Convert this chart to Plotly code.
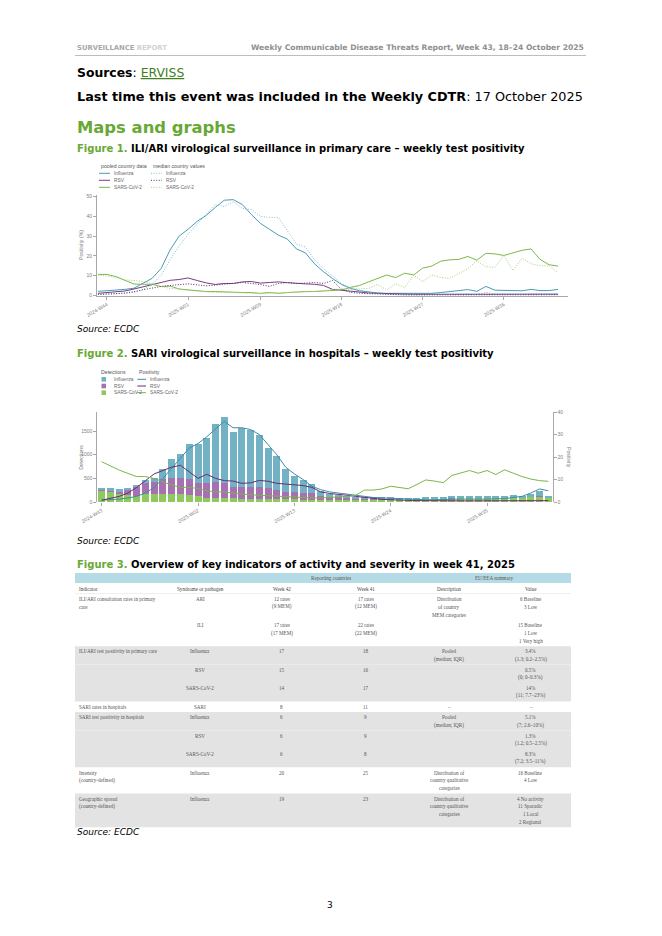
import plotly.graph_objects as go

W, H = 662, 936
OFF = 8  # the page body margin shifts the figure by 8 px


def X(px):
    return (px - OFF) / W


def Y(py):
    return 1 - (py - OFF) / H


# ---------------- data ----------------
weeks = [f"2024-W{w}" for w in range(43, 53)] + [f"2025-W{w:02d}" for w in range(1, 43)]

# Figure 1 (positivity %, primary care)
flu_pooled = [2.0, 2.3, 2.6, 3.0, 3.6, 6.0, 8.6, 13.5, 23, 30, 33.5, 37.5, 40.5, 44.5, 48.2, 48.5, 46, 41, 36.5, 33.5,
              30.5, 28.5, 23.5, 21.5, 16, 12, 8.5, 5.5, 3.5, 2.3, 1.6, 1.2, 1.0, 1.0, 1.0, 1.1, 1.2, 1.0, 1.4, 1.8,
              2.2, 2.9, 2.0, 4.5, 2.6, 2.5, 2.3, 2.3, 3.0, 2.4, 2.4, 3.0]
flu_median = [0.5, 0.6, 0.8, 1.0, 1.5, 3.0, 5.5, 10, 18, 25, 31, 36, 41, 46, 45, 47.5, 44, 43.5, 40, 39.5,
              39.5, 33, 26, 24.5, 18, 13.5, 9.5, 6, 4, 2.5, 1.5, 1.0, 0.5, 0.4, 0.3, 0.3, 0.3, 0.4, 0.5, 0.5,
              0.6, 0.8, 0.5, 1.5, 0.8, 0.6, 0.5, 0.5, 0.8, 0.6, 0.6, 0.8]
rsv_pooled = [1.0, 1.3, 1.6, 2.2, 3.2, 4.3, 5.5, 6.8, 7.6, 8.0, 8.8, 7.5, 6.3, 5.5, 6.0, 6.0, 6.8, 7.0, 6.2, 6.5,
              6.8, 6.4, 6.0, 5.8, 5.6, 5.0, 3.0, 2.5, 2.0, 1.6, 1.2, 1.0, 0.8, 0.7, 0.6, 0.5, 0.5, 0.5, 0.4, 0.4,
              0.4, 0.4, 0.4, 0.4, 0.4, 0.4, 0.4, 0.4, 0.5, 0.5, 0.5, 0.6]
rsv_median = [0.5, 0.6, 0.8, 1.2, 1.8, 2.8, 3.8, 4.5, 5.0, 5.5, 5.8, 5.3, 4.8, 5.2, 5.6, 6.0, 6.5, 6.0, 5.5, 4.5,
              6.0, 6.5, 6.0, 6.2, 6.5, 6.0, 7.5, 3.0, 1.5, 1.0, 0.8, 0.5, 0.3, 0.3, 0.2, 0.2, 0.2, 0.2, 0.2, 0.2,
              0.2, 0.2, 0.2, 0.3, 0.2, 0.2, 0.2, 0.2, 0.3, 0.3, 0.3, 0.3]
cov_pooled = [10.6, 10.6, 9.5, 7.8, 5.7, 5.6, 5.6, 4.4, 4.7, 3.2, 2.7, 2.4, 1.9, 1.9, 1.7, 1.4, 1.4, 1.4, 1.0, 1.4,
              1.0, 1.4, 1.7, 1.9, 1.9, 2.2, 2.4, 2.7, 4.0, 5.0, 6.8, 8.5, 10.3, 9.0, 11.2, 10.3, 13.8, 14.8, 17.3, 18.0,
              18.2, 19.7, 17.8, 21.3, 21.0, 20.2, 21.6, 22.8, 23.5, 18.2, 15.5, 14.8]
cov_median = [10.2, 9.8, 9.0, 7.8, 7.5, 7.0, 6.0, 4.5, 3.5, 3.2, 2.5, 2.0, 1.8, 1.5, 1.5, 1.2, 1.3, 1.0, 0.8, 1.0,
              1.2, 1.5, 1.5, 1.8, 2.0, 2.5, 3.0, 3.3, 3.0, 3.3, 3.5, 5.5, 2.8, 5.8, 4.0, 10.2, 7.0, 10.3, 9.0, 8.6,
              11.0, 13.5, 17.5, 14.5, 14.2, 20.3, 12.5, 18.8, 16.0, 15.0, 14.9, 11.5]
fig1_ticks = ["2024-W44", "2025-W01", "2025-W09", "2025-W18", "2025-W27", "2025-W36"]

# Figure 2 (SARI detections and positivity)
cov_det = [250, 225, 185, 150, 120, 160, 170, 165, 165, 160, 150, 120, 95, 85, 80, 75, 70, 70, 65, 65,
           60, 55, 55, 50, 50, 45, 45, 45, 50, 50, 50, 50, 50, 55, 50, 50, 55, 65, 70, 75,
           80, 90, 85, 85, 85, 100, 90, 100, 95, 110, 120, 90]
rsv_det = [10, 15, 40, 100, 205, 250, 260, 315, 350, 355, 330, 275, 315, 345, 315, 250, 255, 255, 245, 225,
           195, 165, 150, 147, 133, 82, 65, 55, 40, 30, 25, 20, 15, 15, 12, 10, 8, 8, 8, 8,
           6, 6, 5, 5, 5, 5, 5, 5, 5, 5, 6, 5]
flu_det = [40, 50, 40, 50, 35, 55, 85, 220, 385, 490, 740, 825, 950, 1210, 1405, 1160, 1230, 1195, 1105, 845,
           715, 470, 345, 268, 197, 113, 60, 50, 30, 30, 25, 25, 25, 30, 23, 20, 17, 17, 17, 17,
           24, 29, 30, 25, 25, 30, 25, 35, 30, 45, 114, 40]
flu_pos = [0.8, 1.0, 1.3, 1.8, 2.5, 4.0, 6.5, 10.5, 15, 19, 24, 26, 29, 32.5, 35.8, 33, 33, 32.2, 30, 25.5,
           21, 15.5, 12.5, 10, 7, 5.5, 4.5, 4.0, 3.6, 3.0, 2.5, 2.0, 1.8, 1.5, 1.5, 1.2, 1.2, 1.0, 1.0, 1.2,
           1.2, 1.3, 1.3, 1.2, 1.3, 1.4, 1.5, 2.0, 2.5, 4.0, 5.8, 5.0]
rsv_pos = [0.8, 1.5, 2.5, 4.0, 6.5, 9.5, 12.5, 14.0, 15.5, 16.3, 13.5, 10.5, 12.3, 10.5, 9.5, 9.3, 8.3, 8.5, 9.6, 9.2,
           8.3, 7.9, 7.8, 7.3, 6.5, 4.5, 3.8, 3.5, 3.0, 2.5, 2.0, 1.5, 1.2, 1.0, 0.8, 0.7, 0.6, 0.6, 0.5, 0.5,
           0.5, 0.5, 0.5, 0.5, 0.5, 0.5, 0.5, 0.5, 0.5, 0.5, 0.6, 0.6]
cov_pos = [17.9, 16.0, 14.2, 12.7, 11.3, 11.3, 10.4, 9.0, 7.5, 6.5, 6.5, 6.0, 5.0, 4.5, 4.5, 4.0, 3.5, 3.2, 3.0, 2.8,
           2.5, 2.2, 2.0, 1.8, 1.8, 1.8, 2.0, 2.2, 2.5, 3.0, 5.3, 5.3, 5.8, 7.0, 6.4, 5.9, 7.8, 9.8, 9.3, 8.6,
           11.8, 13.0, 14.0, 12.8, 14.0, 12.2, 14.3, 12.8, 11.3, 10.2, 9.5, 9.2]
fig2_ticks = ["2024-W43", "2025-W02", "2025-W13", "2025-W24", "2025-W35"]

# Figure 3 (table)
tbl_header = ["Indicator", "Syndrome or pathogen", "Week 42", "Week 41", "Description", "Value"]
tbl_groups = ["Reporting countries", "EU/EEA summary"]
tbl_indicator = ["ILI/ARI consultation rates in primary<br>care", "", "ILI/ARI test positivity in primary care", "", "",
                 "SARI rates in hospitals", "SARI test positivity in hospitals", "", "",
                 "Intensity<br>(country-defined)", "Geographic spread<br>(country-defined)"]
tbl_pathogen = ["ARI", "ILI", "Influenza", "RSV", "SARS-CoV-2", "SARI", "Influenza", "RSV", "SARS-CoV-2",
                "Influenza", "Influenza"]
tbl_week42 = ["12 rates<br>(9 MEM)", "17 rates<br>(17 MEM)", "17", "15", "14", "8", "6", "6", "6", "20", "19"]
tbl_week41 = ["17 rates<br>(12 MEM)", "22 rates<br>(22 MEM)", "18", "16", "17", "11", "9", "9", "8", "25", "23"]
tbl_desc = ["Distribution<br>of country<br>MEM categories", "", "Pooled<br>(median; IQR)", "", "", "–",
            "Pooled<br>(median; IQR)", "", "",
            "Distribution of<br>country qualitative<br>categories", "Distribution of<br>country qualitative<br>categories"]
tbl_value = ["6 Baseline<br>3 Low", "15 Baseline<br>1 Low<br>1 Very high", "3.4%<br>(1.3; 0.2–2.5%)",
             "0.5%<br>(0; 0–0.3%)", "14%<br>(11; 7.7–23%)", "–", "5.1%<br>(7; 2.6–10%)",
             "1.3%<br>(1.2; 0.5–2.5%)", "8.3%<br>(7.2; 3.5–11%)", "16 Baseline<br>4 Low",
             "4 No activity<br>11 Sporadic<br>1 Local<br>2 Regional"]

# ---------------- styles ----------------
C_FLU, C_FLU_M = "#4a9ab6", "#7dbdd3"
C_RSV, C_RSV_M = "#7b3a87", "#5e2a6a"
C_COV, C_COV_M = "#7cb84a", "#a6d07c"
B_FLU, B_RSV, B_COV = "#72b2c4", "#a670b2", "#8fc85c"
L_FLU, L_RSV, L_COV = "#3d8da5", "#6a2c72", "#7ab648"
GREEN = "#68a834"
AX = "#a8a8a8"
DOT = "1px,1.6px"
TICKF = dict(family="Liberation Sans", size=5, color="#808080")
SANS = "DejaVu Sans"

fig = go.Figure()

# ----- Figure 1 traces -----
for y, c, d in [(flu_pooled, C_FLU, "solid"), (rsv_pooled, C_RSV, "solid"), (cov_pooled, C_COV, "solid"),
                (flu_median, C_FLU_M, DOT), (rsv_median, C_RSV_M, DOT), (cov_median, C_COV_M, DOT)]:
    fig.add_trace(go.Scatter(x=weeks, y=y, mode="lines", line=dict(color=c, width=1, dash=d),
                             xaxis="x", yaxis="y", hoverinfo="skip"))

# ----- Figure 2 traces -----
for y, c in [(cov_det, B_COV), (rsv_det, B_RSV), (flu_det, B_FLU)]:
    fig.add_trace(go.Bar(x=weeks, y=y, marker=dict(color=c, line=dict(width=0)), xaxis="x2", yaxis="y2"))
for y, c in [(flu_pos, L_FLU), (rsv_pos, L_RSV), (cov_pos, L_COV)]:
    fig.add_trace(go.Scatter(x=weeks, y=y, mode="lines", line=dict(color=c, width=1),
                             xaxis="x2", yaxis="y3", hoverinfo="skip"))

annotations = []
shapes = []


def txt(x, y, s, size, color="#000000", xanchor="left", family=SANS, yanchor="middle", angle=0, align="left",
        xref="paper", yref="paper"):
    if xref == "paper":
        x = X(x)
    if yref == "paper":
        y = Y(y)
    annotations.append(dict(x=x, y=y, xref=xref, yref=yref, text=s, showarrow=False, xanchor=xanchor,
                            yanchor=yanchor, textangle=angle, align=align,
                            font=dict(family=family, size=size, color=color)))


# ----- page text -----
txt(75, 48, '<b><span style="color:#a8a8a8">SURVEILLANCE</span> <span style="color:#d2d2d2">REPORT</span></b>', 6.8)
txt(586, 48, "<b>Weekly Communicable Disease Threats Report, Week 43, 18–24 October 2025</b>", 7.6,
    color="#8f8f8f", xanchor="right")
shapes.append(dict(type="line", xref="paper", yref="paper", x0=X(75), x1=X(586), y0=Y(55.5), y1=Y(55.5),
                   line=dict(color="#bdbdbd", width=1)))
txt(75, 73, '<b>Sources</b>: <span style="color:#3f7f1f"><u>ERVISS</u></span>', 12.4)
txt(75, 96, "<b>Last time this event was included in the Weekly CDTR</b>: 17 October 2025", 12.8)
txt(75, 127, "<b>Maps and graphs</b>", 16.4, color=GREEN)
fig_titles = [(148, "Figure 1.", "ILI/ARI virological surveillance in primary care – weekly test positivity"),
              (353, "Figure 2.", "SARI virological surveillance in hospitals – weekly test positivity"),
              (564, "Figure 3.", "Overview of key indicators of activity and severity in week 41, 2025")]
for yy, a, b in fig_titles:
    txt(75, yy, f'<b><span style="color:{GREEN}">{a}</span> {b}</b>', 10)
for yy in (329, 541, 832):
    txt(75, yy, "<i>Source: ECDC</i>", 9)
txt(330, 905, "3", 9, xanchor="center")

# ----- Figure 1 legend / titles -----
LEGF = "Liberation Sans"
txt(99, 166, "pooled country data", 5.2, color="#555555", family=LEGF)
txt(151, 166, "median country values", 5.2, color="#555555", family=LEGF)
for i, (lab, c, cm) in enumerate([("Influenza", C_FLU, C_FLU_M), ("RSV", C_RSV, C_RSV_M),
                                   ("SARS-CoV-2", C_COV, C_COV_M)]):
    yy = 173.3 + i * 7
    shapes.append(dict(type="line", xref="paper", yref="paper", x0=X(99), x1=X(110), y0=Y(yy), y1=Y(yy),
                       line=dict(color=c, width=1)))
    shapes.append(dict(type="line", xref="paper", yref="paper", x0=X(151), x1=X(162), y0=Y(yy), y1=Y(yy),
                       line=dict(color=cm, width=1, dash=DOT)))
    txt(112, yy, lab, 4.8, color="#666666", family=LEGF)
    txt(164, yy, lab, 4.8, color="#666666", family=LEGF)
txt(81, 245, "Positivity (%)", 5.2, color="#777777", xanchor="center", angle=-90, family=LEGF)

# ----- Figure 2 legend / titles -----
txt(99, 372.3, "Detections", 5.2, color="#555555", family=LEGF)
txt(137, 372.3, "Positivity", 5.2, color="#555555", family=LEGF)
for i, (lab, bc, lc) in enumerate([("Influenza", B_FLU, L_FLU), ("RSV", B_RSV, L_RSV),
                                    ("SARS-CoV-2", B_COV, L_COV)]):
    yy = 379.3 + i * 6.7
    shapes.append(dict(type="rect", xref="paper", yref="paper", x0=X(101.5), x1=X(106), y0=Y(yy + 2.3),
                       y1=Y(yy - 2.3), fillcolor=bc, line=dict(width=0)))
    shapes.append(dict(type="line", xref="paper", yref="paper", x0=X(137.3), x1=X(146), y0=Y(yy), y1=Y(yy),
                       line=dict(color=lc, width=1)))
    txt(111.7, yy, lab, 4.8, color="#666666", family=LEGF)
    txt(147.8, yy, lab, 4.8, color="#666666", family=LEGF)
txt(80.7, 457, "Detections", 5.2, color="#777777", xanchor="center", angle=-90, family=LEGF)
txt(569, 457, "Positivity", 5.2, color="#777777", xanchor="center", angle=90, family=LEGF)

# ----- Figure 3 table -----
TBL_L, TBL_R = 75, 571
col_bounds = [75, 160, 240, 323, 408, 490, 571]
col_x = [77] + [(col_bounds[i] + col_bounds[i + 1]) / 2 for i in range(1, 6)]
group_x = [331, 494]
TF = "Liberation Serif"
TC = "#555555"
TS = 5.1
shapes.append(dict(type="rect", xref="x4", yref="y4", x0=TBL_L, x1=TBL_R, y0=573, y1=583,
                   fillcolor="#b5dbe7", line=dict(width=0), layer="below"))
for gx, g in zip(group_x, tbl_groups):
    txt(gx, 578, g, TS, color=TC, xanchor="center", family=TF, xref="x4", yref="y4")
for j, h in enumerate(tbl_header):
    txt(col_x[j], 588.5, h, TS, color="#444444", xanchor="left" if j == 0 else "center", family=TF,
        xref="x4", yref="y4")
shapes.append(dict(type="line", xref="x4", yref="y4", x0=TBL_L, x1=TBL_R, y0=593.5, y1=593.5,
                   line=dict(color="#e4e4e4", width=0.6)))

LINE_H, PAD = 7.7, 3.0
columns = [tbl_indicator, tbl_pathogen, tbl_week42, tbl_week41, tbl_desc, tbl_value]
top = 594.0
group = -1
for r in range(len(tbl_pathogen)):
    nlines = max(col[r].count("<br>") + 1 for col in columns)
    h = PAD + nlines * LINE_H
    if tbl_indicator[r] != "" or r == 0:
        group += 1
    if group % 2 == 1:
        shapes.append(dict(type="rect", xref="x4", yref="y4", x0=TBL_L, x1=TBL_R, y0=top, y1=top + h,
                           fillcolor="#e3e3e3", line=dict(width=0), layer="below"))
    for j, col in enumerate(columns):
        if not col[r]:
            continue
        for k, line in enumerate(col[r].split("<br>")):
            txt(col_x[j], top + 5.2 + k * LINE_H, line, TS, color=TC, xanchor="left" if j == 0 else "center",
                family=TF, xref="x4", yref="y4")
    top += h

# ----- layout -----
fig.update_layout(
    width=W, height=H, margin=dict(l=0, r=0, t=0, b=0),
    paper_bgcolor="white", plot_bgcolor="white", showlegend=False,
    barmode="stack", bargap=0.2,
    annotations=annotations, shapes=shapes,
    xaxis=dict(domain=[X(97), X(568)], range=[-0.1, 52.1], type="category", anchor="y",
               tickmode="array", tickvals=fig1_ticks, ticktext=fig1_ticks, tickangle=-30,
               showline=True, linecolor=AX, linewidth=0.8, ticks="outside", ticklen=3, tickcolor=AX,
               tickfont=TICKF, showgrid=False, zeroline=False, fixedrange=True, automargin=False),
    yaxis=dict(domain=[Y(295.9), Y(194.7)], range=[-0.3, 51], anchor="x",
               tickvals=[0, 10, 20, 30, 40, 50], showline=True, linecolor=AX, linewidth=0.8,
               ticks="outside", ticklen=3, tickcolor=AX, tickfont=TICKF, showgrid=False, zeroline=False,
               fixedrange=True, automargin=False),
    xaxis2=dict(domain=[X(97.3), X(552.7)], range=[-0.5, 51.5], type="category", anchor="y2",
                tickmode="array", tickvals=fig2_ticks, ticktext=fig2_ticks, tickangle=-30,
                showline=False, ticks="outside", ticklen=3, tickcolor=AX,
                tickfont=TICKF, showgrid=False, zeroline=False, fixedrange=True, automargin=False),
    yaxis2=dict(domain=[Y(502), Y(412)], range=[0, 1902], anchor="x2",
                tickvals=[0, 500, 1000, 1500], showline=True, linecolor=AX, linewidth=0.8,
                ticks="outside", ticklen=3, tickcolor=AX, tickfont=TICKF, showgrid=False, zeroline=False,
                fixedrange=True, automargin=False),
    yaxis3=dict(range=[0, 40], overlaying="y2", side="right", anchor="x2",
                tickvals=[0, 10, 20, 30, 40], showline=True, linecolor=AX, linewidth=0.8,
                ticks="outside", ticklen=3, tickcolor=AX, tickfont=TICKF, showgrid=False, zeroline=False,
                fixedrange=True, automargin=False),
    xaxis4=dict(domain=[X(TBL_L), X(TBL_R)], range=[TBL_L, TBL_R], visible=False, anchor="y4", fixedrange=True),
    yaxis4=dict(domain=[Y(830), Y(570)], range=[830, 570], visible=False, anchor="x4", fixedrange=True),
)

fig.write_html("out.html")
